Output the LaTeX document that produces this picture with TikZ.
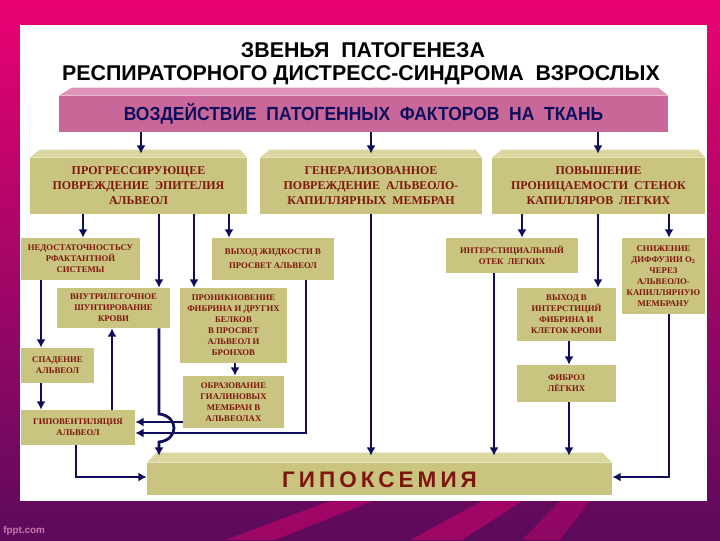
\documentclass[tikz,border=0pt]{standalone}
\usepackage{fontspec}
\setmainfont{Liberation Serif}
\newfontfamily\headfont{Liberation Sans}
\newfontfamily\condfont[FakeStretch=0.92]{Liberation Sans}
\newfontfamily\hypfont[LetterSpace=18]{Liberation Sans}
\usetikzlibrary{arrows.meta,calc}
\definecolor{bgpink}{RGB}{234,2,114}
\definecolor{bgmid}{RGB}{185,0,112}
\definecolor{bgpurple}{RGB}{92,10,92}
\definecolor{khaki}{RGB}{201,196,128}
\definecolor{khakitop}{RGB}{218,215,160}
\definecolor{rose}{RGB}{201,104,152}
\definecolor{rosetop}{RGB}{222,148,186}
\definecolor{darkred}{RGB}{125,22,12}
\definecolor{navy}{RGB}{14,14,92}

\begin{document}
\begin{tikzpicture}[x=0.025cm, y=-0.025cm,
  sbox/.style 2 args={fill=khaki, text=darkred, font=\bfseries\fontsize{6.2}{7.8}\selectfont, align=center, inner sep=0, minimum width=#1*0.025cm, minimum height=#2*0.025cm},
  bbox/.style={fill=khaki, text=darkred, font=\bfseries\fontsize{8.5}{10.6}\selectfont, align=center, inner sep=0, minimum width=#1*0.025cm, minimum height=56*0.025cm},
  arr/.style={-{Latex[length=6pt,width=6.5pt]}, draw=navy, line width=2pt}]
\useasboundingbox (0,0) rectangle (720,540);
\shade[top color=bgpink, middle color=bgmid, bottom color=bgpurple] (0,0) rectangle (720,540);
\fill[bgpink, opacity=0.45] (225,540) -- (330,501) -- (372,501) -- (275,540) -- cycle;
\fill[bgpink, opacity=0.45] (410,540) -- (482,501) -- (522,501) -- (462,540) -- cycle;
\fill[bgpink, opacity=0.35] (522,540) -- (560,501) -- (590,501) -- (560,540) -- cycle;
\fill[white] (20,25) rectangle (707,501);

\node[anchor=base, font=\headfont\bfseries\fontsize{15.2}{18}\selectfont] (title1) at (363,57) {ЗВЕНЬЯ\ \ ПАТОГЕНЕЗА};
\node[anchor=base, font=\headfont\bfseries\fontsize{15.2}{18}\selectfont] (title2) at (361,80) {РЕСПИРАТОРНОГО ДИСТРЕСС-СИНДРОМА\ \ ВЗРОСЛЫХ};

\node[fill=rose, text=navy, font=\condfont\bfseries\fontsize{13.5}{15}\selectfont, minimum width=609*0.025cm, minimum height=36*0.025cm, inner sep=0, text height=9.7pt, text depth=0pt] (hdr) at (363.5,114) {ВОЗДЕЙСТВИЕ\ \ ПАТОГЕННЫХ\ \ ФАКТОРОВ\ \ НА\ \ ТКАНЬ};
\fill[rosetop] (hdr.north west) -- ++(13,-8) -- ($(hdr.north east)+(-10,-8)$) -- (hdr.north east) -- cycle;

\node[bbox=217] (b1) at (138.5,186) {ПРОГРЕССИРУЮЩЕЕ\\ПОВРЕЖДЕНИЕ\ \ ЭПИТЕЛИЯ\\АЛЬВЕОЛ};
\node[bbox=222] (b2) at (371,186) {ГЕНЕРАЛИЗОВАННОЕ\\ПОВРЕЖДЕНИЕ\ \ АЛЬВЕОЛО-\\КАПИЛЛЯРНЫХ\ \ МЕМБРАН};
\node[bbox=213] (b3) at (598.5,186) {ПОВЫШЕНИЕ\\ПРОНИЦАЕМОСТИ\ \ СТЕНОК\\КАПИЛЛЯРОВ\ \ ЛЕГКИХ};
\foreach \bb in {b1,b2,b3}
  \fill[khakitop] (\bb.north west) -- ++(10,-8) -- ($(\bb.north east)+(-7,-8)$) -- (\bb.north east) -- cycle;

\node[sbox={119}{42}] (nedost) at (80.5,259) {НЕДОСТАТОЧНОСТЬСУ\\РФАКТАНТНОЙ\\СИСТЕМЫ};
\node[sbox={122}{42}] (vyhzhid) at (273,259) {ВЫХОД ЖИДКОСТИ В\\[2.2pt]ПРОСВЕТ АЛЬВЕОЛ};
\node[sbox={132}{35}] (interst) at (512,255.5) {ИНТЕРСТИЦИАЛЬНЫЙ\\ОТЕК\ \ ЛЕГКИХ};
\node[sbox={83}{76}] (snizh) at (663.5,276) {СНИЖЕНИЕ\\ДИФФУЗИИ O\textsubscript{2}\\ЧЕРЕЗ\\АЛЬВЕОЛО-\\КАПИЛЛЯРНУЮ\\МЕМБРАНУ};
\node[sbox={113}{40}] (shunt) at (113.5,308) {ВНУТРИЛЕГОЧНОЕ\\ШУНТИРОВАНИЕ\\КРОВИ};
\node[sbox={107}{75}] (pronik) at (233.5,325.5) {ПРОНИКНОВЕНИЕ\\ФИБРИНА И ДРУГИХ\\БЕЛКОВ\\В ПРОСВЕТ\\АЛЬВЕОЛ И\\БРОНХОВ};
\node[sbox={99}{53}] (vyhint) at (566.5,314.5) {ВЫХОД В\\ИНТЕРСТИЦИЙ\\ФИБРИНА И\\КЛЕТОК КРОВИ};
\node[sbox={73}{35}] (spad) at (57.5,365.5) {СПАДЕНИЕ\\АЛЬВЕОЛ};
\node[sbox={101}{52}] (obraz) at (233.5,402) {ОБРАЗОВАНИЕ\\ГИАЛИНОВЫХ\\МЕМБРАН В\\АЛЬВЕОЛАХ};
\node[sbox={99}{37}] (fibroz) at (566.5,383.5) {ФИБРОЗ\\ЛЁГКИХ};
\node[sbox={114}{35}] (gipov) at (78,427.5) {ГИПОВЕНТИЛЯЦИЯ\\АЛЬВЕОЛ};

\node[fill=khaki, text=darkred, font=\hypfont\bfseries\fontsize{16}{18}\selectfont, minimum width=465*0.025cm, minimum height=32*0.025cm, inner sep=0, text height=11.5pt, text depth=0pt] (hypox) at (379.5,479) {ГИПОКСЕМИЯ};
\fill[khakitop] (hypox.north west) -- ++(10,-10) -- ($(hypox.north east)+(-10,-10)$) -- (hypox.north east) -- cycle;

\foreach \xx/\bb in {141/b1, 371/b2, 598/b3}
  \draw[arr] (hdr.south -| \xx,0) -- ($(\bb.north -| \xx,0)+(0,-4)$);
\foreach \xx/\nn in {83/nedost, 159/shunt, 194/pronik, 229/vyhzhid}
  \draw[arr] (b1.south -| \xx,0) -- (\nn.north -| \xx,0);
\foreach \xx/\nn in {522/interst, 598/vyhint, 669/snizh}
  \draw[arr] (b3.south -| \xx,0) -- (\nn.north -| \xx,0);
\draw[arr] (nedost.south -| 41,0) -- (spad.north -| 41,0);
\draw[arr] (spad.south -| 41,0) -- (gipov.north -| 41,0);
\draw[arr] (gipov.north -| 112,0) -- (shunt.south -| 112,0);
\draw[arr] (pronik.south -| 235,0) -- (obraz.north -| 235,0);
\draw[arr] (vyhint.south -| 569,0) -- (fibroz.north -| 569,0);
\draw[arr] (obraz.west |- 0,422) -- (gipov.east |- 0,422);
\draw[arr] (vyhzhid.south -| 306,0) |- (gipov.east |- 0,433);
\draw[arr] (gipov.south -| 76,0) |- (hypox.west |- 0,477);
\draw[arr] (snizh.south -| 669,0) |- (hypox.east |- 0,477);
\foreach \xx/\nn in {371/b2, 494/interst, 569/fibroz}
  \draw[arr] (\nn.south -| \xx,0) -- ($(hypox.north -| \xx,0)+(0,-7)$);
\draw[arr] (shunt.south -| 159,0) -- (159,414) .. controls (179,416) and (179,440) .. (159,442) -- ($(hypox.north -| 159,0)+(0,-7)$);

\node[anchor=west, text=bgpink!35!white, opacity=0.7, font=\headfont\bfseries\fontsize{7}{8}\selectfont, inner sep=0] (wm) at (3,531) {fppt.com};
\end{tikzpicture}
\end{document}
